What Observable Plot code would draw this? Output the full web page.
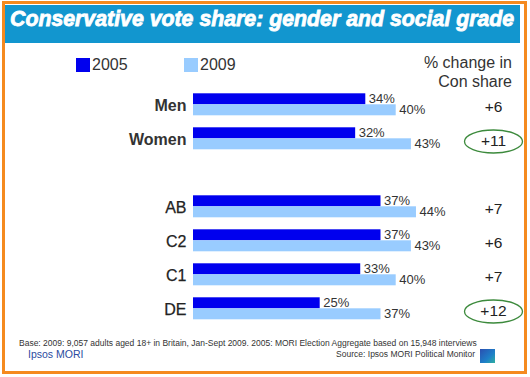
<!DOCTYPE html>
<html>
<head>
<meta charset="utf-8">
<script src="https://cdn.jsdelivr.net/npm/d3@7"></script>
<script src="https://cdn.jsdelivr.net/npm/@observablehq/plot@0.6"></script>
<style>
  html, body { margin: 0; padding: 0; background: #fff; }
  #wrap { position: relative; width: 530px; height: 377px; overflow: hidden; background: #fff;
          font-family: "Liberation Sans", Arial, sans-serif; color: #333; }
  #frame { position: absolute; left: 2px; top: 1px; width: 525px; height: 373px; box-sizing: border-box;
           border: 3px solid #F58A1F; }
  #titlebar { position: absolute; left: 5px; top: 5px; width: 515px; height: 38px; background: #1296CF; }
  #title { position: absolute; left: 10px; top: 7px; font-size: 21.3px; font-weight: bold; font-style: italic;
           color: #fff; -webkit-text-stroke: 0.8px #fff; white-space: nowrap; letter-spacing: 0px; }
  #chart { position: absolute; left: 0; top: 0; }
  .legend { position: absolute; top: 56px; font-size: 16px; color: #333; display: flex; align-items: center; }
  .sw { width: 14px; height: 14px; margin-right: 2px; }
  #hdr { position: absolute; right: 18px; top: 54px; text-align: right; font-size: 16px; line-height: 18.5px; color: #333; }
  #base { position: absolute; left: 19px; top: 339px; font-size: 8.5px; line-height: 9px; color: #333; white-space: nowrap; }
  #ipsos { position: absolute; left: 28px; top: 348.5px; font-size: 10.5px; line-height: 11px; color: #2B4BA0; white-space: nowrap; }
  #source { position: absolute; right: 55px; top: 350px; font-size: 8.5px; line-height: 9px; color: #333; white-space: nowrap; }
  #logo { position: absolute; left: 480px; top: 349px; width: 15px; height: 14px;
          background: linear-gradient(135deg, #2a4fb0 0%, #1e7fc8 60%, #2fb0a0 100%); }
</style>
</head>
<body>
<div id="wrap">
  <div id="frame"></div>
  <div id="titlebar"></div>
  <div id="title">Conservative vote share: gender and social grade</div>
  <div class="legend" style="left:76px"><div class="sw" style="background:#0000EE"></div>2005</div>
  <div class="legend" style="left:184px"><div class="sw" style="background:#99CCFF"></div>2009</div>
  <div id="hdr">% change in<br>Con share</div>
  <div id="base">Base: 2009: 9,057 adults aged 18+ in Britain, Jan-Sept 2009. 2005: MORI Election Aggregate based on 15,948 interviews</div>
  <div id="ipsos">Ipsos MORI</div>
  <div id="source">Source: Ipsos MORI Political Monitor</div>
  <div id="logo"></div>
  <div id="chart"></div>
</div>
<script>
// ---- data ----
const categories = ["Men", "Women", "AB", "C2", "C1", "DE"];
const rowOrder = ["Men", "Women", "gap", "AB", "C2", "C1", "DE"];
const years = ["2005", "2009"];
const share2005 = [34, 32, 37, 37, 33, 25];
const share2009 = [40, 43, 44, 43, 40, 37];
const changeLabels = ["+6", "+11", "+7", "+6", "+7", "+12"];
const circled = ["Women", "DE"];
const boldRows = ["Men", "Women"];

const rows = categories.flatMap((c, i) => [
  {cat: c, year: "2005", v: share2005[i]},
  {cat: c, year: "2009", v: share2009[i]}
]);
const cats = categories.map((c, i) => ({cat: c, change: changeLabels[i]}));

const k = 0.5523;
const ellipse = {
  draw(context) {
    const rx = 29, ry = 11.5;
    context.moveTo(rx, 0);
    context.bezierCurveTo(rx, k * ry, k * rx, ry, 0, ry);
    context.bezierCurveTo(-k * rx, ry, -rx, k * ry, -rx, 0);
    context.bezierCurveTo(-rx, -k * ry, -k * rx, -ry, 0, -ry);
    context.bezierCurveTo(k * rx, -ry, rx, -k * ry, rx, 0);
    context.closePath();
  }
};

const chart = Plot.plot({
  width: 530,
  height: 377,
  marginLeft: 193,
  marginRight: 37,
  marginTop: 92.7,
  marginBottom: 56.6,
  style: {background: "transparent", fontFamily: "Liberation Sans, Arial, sans-serif", color: "#333"},
  x: {domain: [0, 59.2], axis: null},
  y: {domain: years, padding: 0, axis: null},
  fy: {domain: rowOrder, paddingInner: 0.31, paddingOuter: 0, axis: null},
  color: {domain: years, range: ["#0000EE", "#99CCFF"]},
  marks: [
    Plot.barX(rows, {x: "v", y: "year", fy: "cat", fill: "year"}),
    Plot.text(rows, {x: "v", y: "year", fy: "cat", text: d => d.v + "%", textAnchor: "start", dx: 3,
                     fontSize: 13, fill: "#333"}),
    Plot.text(cats.filter(d => boldRows.includes(d.cat)), {fy: "cat", text: "cat", frameAnchor: "left",
                     textAnchor: "end", dx: -7, dy: 1, fontSize: 16, fontWeight: "bold", fill: "#333"}),
    Plot.text(cats.filter(d => !boldRows.includes(d.cat)), {fy: "cat", text: "cat", frameAnchor: "left",
                     textAnchor: "end", dx: -7, dy: 1, fontSize: 16, fill: "#222",
                     stroke: "#222", strokeWidth: 0.25}),
    Plot.text(cats, {fy: "cat", text: "change", frameAnchor: "right", textAnchor: "middle", dy: 2,
                     fontSize: 15.5, fill: "#222"}),
    Plot.dot(cats.filter(d => circled.includes(d.cat)), {fy: "cat", frameAnchor: "right", dy: 2.5,
                     symbol: ellipse, fill: "none", stroke: "#3C8A3C", strokeWidth: 1.3})
  ]
});
document.getElementById("chart").appendChild(chart);
</script>
</body>
</html>
